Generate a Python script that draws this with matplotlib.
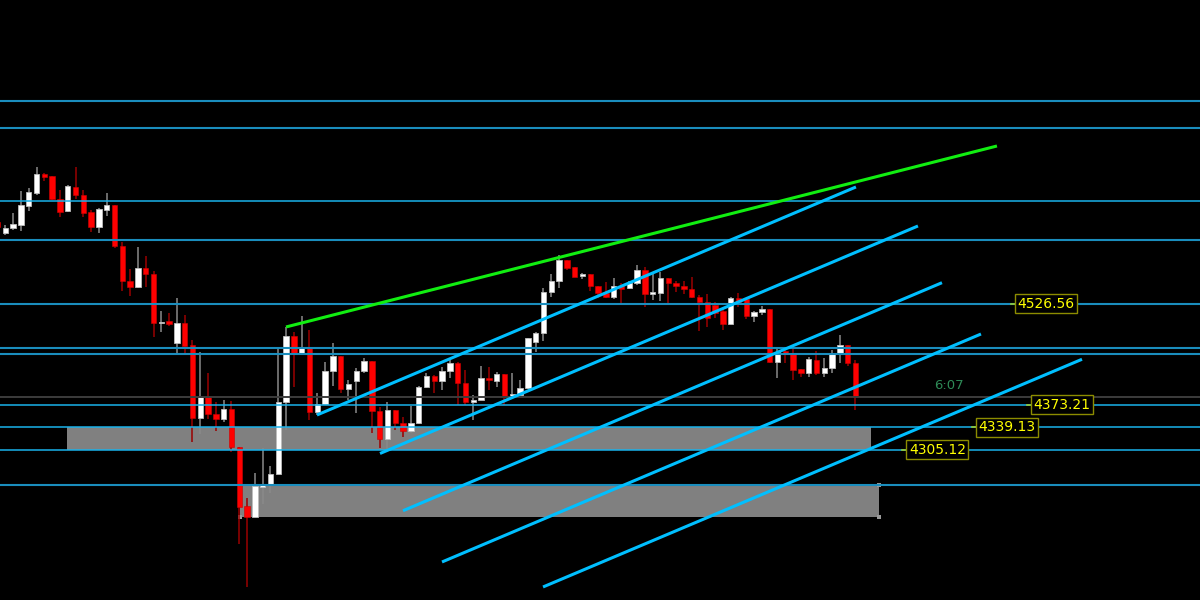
import numpy as np
import matplotlib
matplotlib.use('Agg')
import matplotlib.pyplot as plt
from matplotlib.patches import Rectangle

# ---- candle data (index 0 .. 110) ----
opens = [4651.6, 4634.4, 4642.0, 4647.1, 4675.5, 4695.2, 4724.6, 4720.6, 4686.6, 4667.4,
         4704.4, 4692.7, 4666.4, 4643.6, 4669.9, 4677.0, 4614.7, 4561.9, 4551.9, 4581.7,
         4572.1, 4498.1, 4500.2, 4466.8, 4497.2, 4463.7, 4352.8, 4385.6, 4358.9, 4351.3,
         4366.5, 4309.2, 4219.5, 4202.3, 4248.8, 4251.4, 4268.0, 4378.0, 4477.9, 4452.5,
         4459.2, 4362.8, 4374.1, 4424.7, 4447.5, 4396.9, 4409.9, 4424.7, 4439.9, 4363.9,
         4320.9, 4365.4, 4346.1, 4333.5, 4345.2, 4400.8, 4417.1, 4409.5, 4425.1, 4437.3,
         4406.9, 4377.1, 4380.6, 4414.5, 4409.9, 4420.1, 4387.1, 4388.2, 4398.4, 4469.2,
         4482.9, 4544.3, 4561.9, 4593.4, 4582.3, 4569.5, 4572.1, 4554.3, 4543.7, 4537.6,
         4554.3, 4550.4, 4558.0, 4578.2, 4541.7, 4543.7, 4565.6, 4558.0, 4553.9, 4549.3,
         4537.6, 4530.0, 4525.0, 4515.9, 4496.1, 4535.2, 4533.7, 4508.3, 4514.8, 4518.9,
         4437.9, 4455.1, 4450.5, 4427.3, 4422.1, 4441.4, 4421.2, 4428.8, 4450.5, 4464.2,
         4436.4]
highs = [4652.5, 4646.6, 4664.8, 4698.3, 4702.8, 4735.2, 4725.0, 4721.5, 4699.8, 4707.4,
         4734.3, 4699.8, 4669.4, 4672.0, 4694.8, 4677.5, 4621.2, 4579.7, 4612.7, 4599.5,
         4577.1, 4515.9, 4513.3, 4535.6, 4509.8, 4471.8, 4453.1, 4421.2, 4378.0, 4380.6,
         4379.1, 4309.5, 4231.2, 4269.2, 4307.2, 4280.7, 4459.2, 4492.0, 4484.4, 4508.3,
         4487.0, 4390.8, 4437.9, 4466.8, 4448.0, 4411.0, 4429.7, 4444.9, 4440.5, 4370.4,
         4378.0, 4366.0, 4355.2, 4371.5, 4402.0, 4421.2, 4418.0, 4430.3, 4441.4, 4438.0,
         4426.2, 4388.2, 4432.3, 4430.3, 4423.6, 4420.5, 4422.1, 4411.0, 4475.0, 4483.5,
         4550.4, 4572.1, 4601.0, 4594.0, 4583.0, 4573.2, 4572.5, 4554.5, 4560.4, 4565.6,
         4558.0, 4561.9, 4585.8, 4583.2, 4575.6, 4575.6, 4566.0, 4561.9, 4561.9, 4567.1,
         4540.2, 4541.3, 4530.0, 4520.0, 4537.6, 4542.8, 4534.5, 4516.3, 4523.5, 4519.5,
         4459.2, 4459.2, 4459.2, 4427.5, 4445.5, 4455.5, 4444.0, 4456.6, 4479.4, 4464.5,
         4441.4]
lows = [4643.0, 4631.4, 4639.0, 4637.9, 4668.3, 4692.2, 4713.9, 4685.0, 4659.2, 4665.9,
        4685.7, 4658.3, 4636.4, 4634.9, 4660.3, 4611.2, 4546.7, 4539.1, 4551.0, 4552.8,
        4475.9, 4483.5, 4493.1, 4449.0, 4451.6, 4317.2, 4328.9, 4352.0, 4333.5, 4347.6,
        4301.1, 4161.7, 4096.8, 4202.0, 4222.5, 4239.7, 4267.5, 4335.0, 4400.8, 4452.0,
        4350.2, 4357.8, 4373.5, 4401.9, 4391.7, 4380.6, 4360.4, 4421.2, 4330.0, 4307.2,
        4304.6, 4335.0, 4324.8, 4330.0, 4344.0, 4398.4, 4390.8, 4395.8, 4413.6, 4373.0,
        4373.0, 4350.2, 4380.0, 4395.8, 4400.8, 4373.0, 4385.6, 4387.5, 4397.5, 4454.0,
        4470.7, 4537.6, 4550.4, 4578.2, 4567.0, 4564.1, 4546.7, 4536.1, 4535.2, 4533.7,
        4527.6, 4549.3, 4555.4, 4521.5, 4532.6, 4531.5, 4525.0, 4544.3, 4541.7, 4535.2,
        4485.5, 4492.0, 4505.7, 4487.0, 4495.5, 4522.4, 4503.3, 4498.7, 4509.8, 4437.0,
        4413.6, 4437.3, 4411.0, 4416.0, 4416.0, 4418.6, 4415.1, 4421.2, 4437.3, 4432.3,
        4365.4]
closes = [4644.0, 4642.5, 4647.7, 4676.5, 4696.3, 4724.6, 4719.6, 4686.1, 4666.8, 4705.4,
          4692.2, 4665.3, 4643.6, 4670.5, 4677.0, 4614.2, 4561.9, 4551.9, 4581.7, 4571.7,
          4498.1, 4499.6, 4495.7, 4497.6, 4463.1, 4352.8, 4385.6, 4358.9, 4351.3, 4366.5,
          4309.2, 4218.4, 4202.3, 4249.9, 4251.4, 4268.1, 4378.0, 4477.9, 4452.5, 4459.2,
          4362.8, 4374.1, 4425.1, 4447.5, 4396.9, 4404.9, 4425.1, 4439.9, 4363.9, 4320.9,
          4365.4, 4346.1, 4333.5, 4345.2, 4400.8, 4417.1, 4409.5, 4425.1, 4437.3, 4406.9,
          4377.1, 4380.6, 4414.5, 4411.0, 4420.1, 4387.1, 4389.3, 4399.3, 4474.4, 4482.9,
          4545.2, 4561.9, 4593.4, 4582.0, 4568.0, 4571.7, 4554.3, 4543.7, 4536.7, 4554.3,
          4549.3, 4558.9, 4578.2, 4541.7, 4544.3, 4565.6, 4558.0, 4554.3, 4549.3, 4536.7,
          4530.0, 4504.8, 4513.3, 4496.1, 4535.2, 4530.0, 4508.3, 4514.8, 4518.9, 4437.9,
          4454.0, 4451.6, 4426.2, 4422.1, 4442.5, 4421.2, 4429.7, 4450.5, 4464.2, 4436.4,
          4384.7]

# ---- drawn objects ----
hline_levels = [4835.1, 4794.0, 4683.8, 4623.8, 4526.56, 4460.1, 4451.0,
                4373.21, 4339.13, 4305.12, 4251.9]
hline_bright = [False, False, True, False, False, False, False, True, True, True, False]
grey_level = 4385.9

zones = [(8.91, 112.0, 4305.12, 4339.13),
         (31.09, 113.0, 4202.3, 4251.9)]
zone_handles_x = [31.09, 113.0, 113.0]
zone_handles_y = [4202.3, 4251.9, 4202.3]

green_x = [36.99, 128.14]
green_y = [4491.6, 4766.7]

channel_x = [[40.96, 110.06], [49.04, 118.01], [51.99, 121.09],
             [56.99, 126.09], [69.94, 139.04]]
channel_y = [[4357.8, 4704.4], [4299.3, 4645.1], [4212.3, 4558.9],
             [4134.4, 4480.9], [4096.4, 4442.5]]

label_x = [130.5, 132.55, 125.45, 116.55]
label_values = [4526.56, 4373.21, 4339.13, 4305.12]
timer_x, timer_y, timer_text = 122.0, 4402.0, '6:07'

# ---- figure ----
fig = plt.figure(figsize=(12, 6), dpi=100, facecolor='black')
ax = fig.add_axes([0, 0, 1, 1])
ax.set_facecolor('black')
ax.set_xlim(0.32, 154.17)
ax.set_ylim(4076.6, 4988.6)
ax.set_axis_off()

# zones
for x0, x1, y0, y1 in zones:
    ax.add_patch(Rectangle((x0, y0), x1 - x0, y1 - y0, facecolor='#808080',
                           edgecolor='none', zorder=1))
ax.scatter(zone_handles_x, zone_handles_y, marker='s', s=10, color='#9a9a9a',
           zorder=1.5, linewidths=0)

# candles
o = np.array(opens); h = np.array(highs); l = np.array(lows); c = np.array(closes)
idx = np.arange(len(o))
up = c >= o
width = 0.68
wick_col = np.where(up, '#8a8a8a', '#9b0000')
ax.vlines(idx, l, h, colors=list(wick_col), linewidth=1.1, zorder=2)
bottom = np.minimum(o, c)
height = np.maximum(np.abs(c - o), 1.6)
ax.bar(idx[up], height[up], width, bottom=bottom[up], color='white',
       edgecolor='#bdbdbd', linewidth=0.6, zorder=3)
ax.bar(idx[~up], height[~up], width, bottom=bottom[~up], color='#ff0000',
       edgecolor='#d00000', linewidth=0.4, zorder=3)

# horizontal levels
for lev, bright in zip(hline_levels, hline_bright):
    if bright:
        ax.axhline(lev, color='#1ab2ea', linewidth=1.1, zorder=4)
    else:
        ax.axhline(lev, color='#1a8dbd', linewidth=1.5, zorder=4)
ax.axhline(grey_level, color='#3c3c3c', linewidth=1.4, zorder=4)

# green trend line
ax.plot(green_x, green_y, color='#11ee11', linewidth=2.2, zorder=5,
        solid_capstyle='butt')
# channel lines
for xs, ys in zip(channel_x, channel_y):
    ax.plot(xs, ys, color='#00bfff', linewidth=2.2, zorder=5,
            solid_capstyle='butt')

# price labels
for lx, val in zip(label_x, label_values):
    ax.plot([lx - 0.55, lx], [val, val], color='#9acd32', linewidth=1.2, zorder=6)
    ax.text(lx + 0.3, val, f'{val:.2f}', color='#ffff00', fontsize=10,
            family='DejaVu Sans', ha='left', va='center', zorder=7,
            bbox=dict(boxstyle='square,pad=0.18', facecolor='black',
                      edgecolor='#8c8c00', linewidth=1.0))

ax.text(timer_x, timer_y, timer_text, color='#2e8b57', fontsize=9.5,
        ha='center', va='center', zorder=7)

fig.savefig('out.png', dpi=100, facecolor='black')
